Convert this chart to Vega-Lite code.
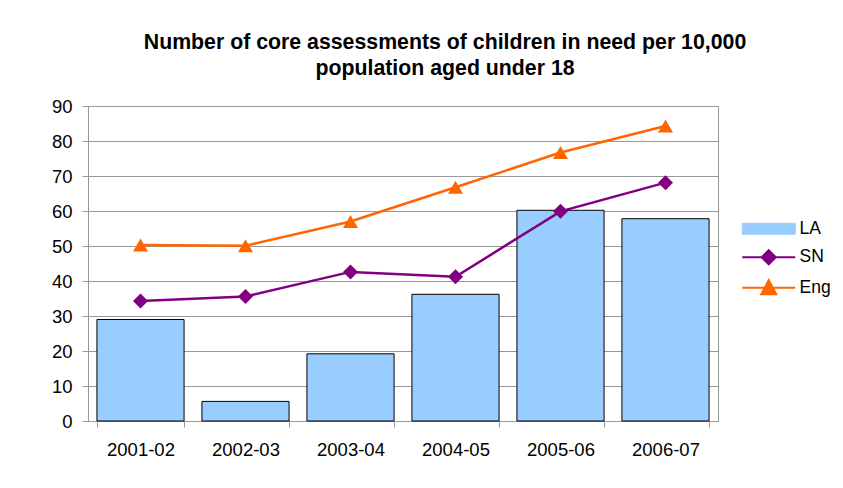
{
  "$schema": "https://vega.github.io/schema/vega-lite/v6.json",
  "autosize": "none",
  "width": 630,
  "height": 315,
  "padding": {"left": 88, "top": 106, "right": 125, "bottom": 67},
  "background": "#ffffff",
  "config": {
    "font": "Liberation Sans",
    "view": {"stroke": "#999999", "strokeWidth": 1},
    "axis": {
      "labelFont": "Liberation Sans",
      "labelFontSize": 18.5,
      "labelColor": "#000000",
      "domainColor": "#999999",
      "tickColor": "#999999",
      "gridColor": "#999999",
      "title": null
    }
  },
  "title": {
    "text": ["Number of core assessments of children in need per 10,000", "population aged under 18"],
    "font": "Liberation Sans",
    "fontSize": 21.3,
    "fontWeight": "bold",
    "color": "#000000",
    "lineHeight": 26.5,
    "anchor": "middle",
    "dx": 42,
    "offset": 17.5
  },
  "data": {
    "values": [
      {"year": "2001-02", "series": "LA", "value": 29.0},
      {"year": "2002-03", "series": "LA", "value": 5.6},
      {"year": "2003-04", "series": "LA", "value": 19.2},
      {"year": "2004-05", "series": "LA", "value": 36.2},
      {"year": "2005-06", "series": "LA", "value": 60.2},
      {"year": "2006-07", "series": "LA", "value": 57.8},
      {"year": "2001-02", "series": "SN", "value": 34.3},
      {"year": "2002-03", "series": "SN", "value": 35.6},
      {"year": "2003-04", "series": "SN", "value": 42.6},
      {"year": "2004-05", "series": "SN", "value": 41.2},
      {"year": "2005-06", "series": "SN", "value": 59.9},
      {"year": "2006-07", "series": "SN", "value": 68.1},
      {"year": "2001-02", "series": "Eng", "value": 50.3},
      {"year": "2002-03", "series": "Eng", "value": 50.1},
      {"year": "2003-04", "series": "Eng", "value": 57.0},
      {"year": "2004-05", "series": "Eng", "value": 66.8},
      {"year": "2005-06", "series": "Eng", "value": 76.7},
      {"year": "2006-07", "series": "Eng", "value": 84.3}
    ]
  },
  "encoding": {
    "x": {
      "field": "year",
      "type": "nominal",
      "sort": null,
      "scale": {"paddingInner": 0.17, "paddingOuter": 0.085},
      "axis": {
        "labelAngle": 0,
        "tickBand": "extent",
        "tickSize": 6,
        "labelPadding": 13.5,
        "grid": false
      }
    },
    "y": {
      "field": "value",
      "type": "quantitative",
      "scale": {"domain": [0, 90], "nice": false},
      "axis": {
        "values": [0, 10, 20, 30, 40, 50, 60, 70, 80, 90],
        "tickSize": 6,
        "labelPadding": 10,
        "grid": true
      }
    },
    "color": {
      "field": "series",
      "type": "nominal",
      "scale": {"domain": ["LA", "SN", "Eng"], "range": ["#99CCFF", "#800080", "#FF6600"]},
      "legend": {
        "title": null,
        "orient": "none",
        "legendX": 672,
        "legendY": 114,
        "padding": 0,
        "symbolSize": 312,
        "rowPadding": 7.5,
        "labelOffset": 22,
        "labelFont": "Liberation Sans",
        "labelFontSize": 17.5,
        "labelColor": "#000000",
        "symbolOpacity": 1,
        "symbolType": {"expr": "datum.value === 'LA' ? 'M-3,-0.62H3V0.62H-3Z' : datum.value === 'SN' ? 'M-3,0H3M0,-0.8L0.8,0L0,0.8L-0.8,0Z' : 'M-3,0H3M0,-0.85L0.85,0.75L-0.85,0.75Z'"},
        "symbolStrokeColor": {"expr": "datum.value === 'LA' ? '#000000' : datum.value === 'SN' ? '#800080' : '#FF6600'"},
        "symbolStrokeWidth": {"expr": "datum.value === 'LA' ? 1 : 2"}
      }
    }
  },
  "layer": [
    {
      "transform": [{"filter": "datum.series === 'LA'"}],
      "mark": {"type": "bar", "stroke": "#000000", "strokeWidth": 1},
      "encoding": {}
    },
    {
      "transform": [{"filter": "datum.series !== 'LA'"}],
      "mark": {"type": "line", "strokeWidth": 2.5},
      "encoding": {"detail": {"field": "series"}}
    },
    {
      "transform": [{"filter": "datum.series !== 'LA'"}],
      "mark": {"type": "point", "filled": true, "opacity": 1, "size": 225},
      "encoding": {
        "shape": {
          "field": "series",
          "type": "nominal",
          "scale": {"domain": ["SN", "Eng"], "range": ["diamond", "triangle-up"]},
          "legend": null
        }
      }
    }
  ]
}
